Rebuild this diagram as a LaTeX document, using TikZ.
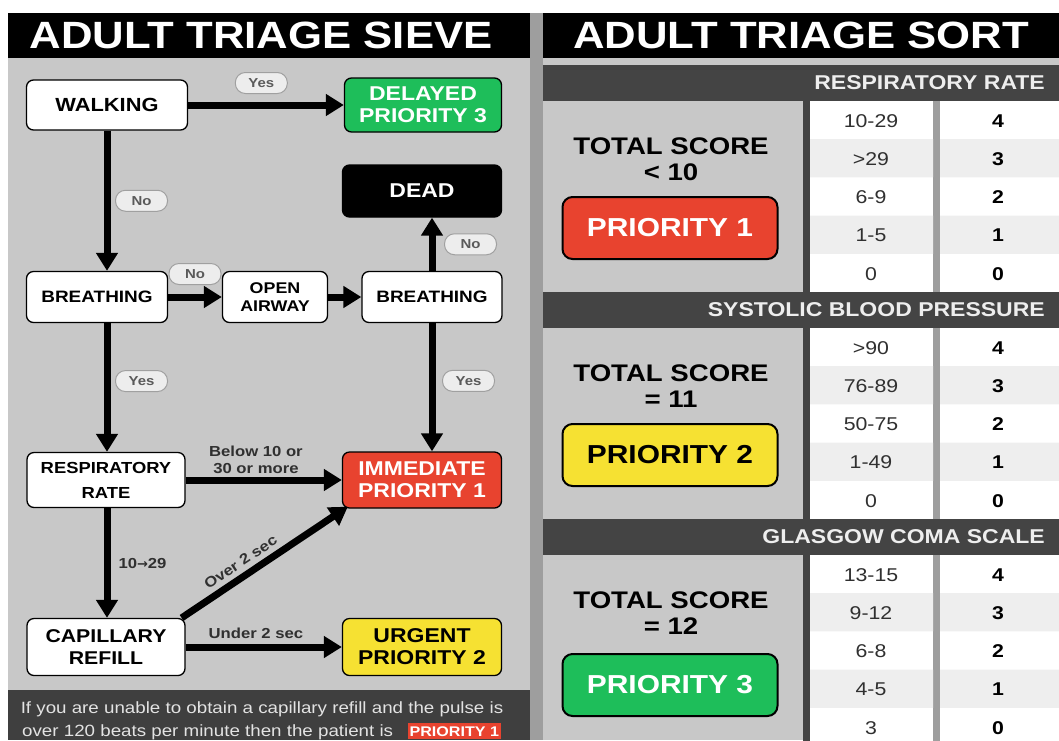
\documentclass[tikz,border=0pt]{standalone}
\usepackage{fontspec}
\setmainfont{Liberation Sans}[FakeStretch=1.15]
\newfontfamily\arrowfont{DejaVu Sans}
\usetikzlibrary{arrows.meta,positioning}

\definecolor{panelgray}{HTML}{C8C8C8}
\definecolor{footgray}{HTML}{3F3F3F}
\definecolor{headgray}{HTML}{444444}
\definecolor{divider}{HTML}{9E9E9E}
\definecolor{altrow}{HTML}{EEEEEE}
\definecolor{prired}{HTML}{E8432F}
\definecolor{prigreen}{HTML}{1EBE5A}
\definecolor{priyellow}{HTML}{F6E132}
\definecolor{pillfill}{HTML}{EDEDED}
\definecolor{pillline}{HTML}{A0A0A0}
\definecolor{pillink}{HTML}{5A5A5A}
\definecolor{labelink}{HTML}{303030}

\tikzset{
	sievebox/.style={draw=black,line width=1.3pt,rounded corners=7pt,fill=white,align=center,inner sep=0pt,font=\fontsize{16.5}{22}\selectfont\bfseries},
	pribox/.style={sievebox,font=\fontsize{20}{22}\selectfont\bfseries},
	pill/.style={draw=pillline,fill=pillfill,line width=1pt,rounded corners=10pt,minimum width=52pt,minimum height=21pt,inner sep=0pt,text=pillink,font=\fontsize{13}{13}\selectfont\bfseries},
	flow/.style={line width=7pt,-{Triangle[length=18pt,width=21pt]}},
	edgetext/.style={text=labelink,align=center,inner sep=1pt,font=\fontsize{14.5}{17}\selectfont\bfseries},
	titletext/.style={text=white,inner sep=0pt,font=\fontsize{38}{40}\selectfont\bfseries},
	headtext/.style={text=altrow,inner sep=0pt,font=\fontsize{20}{22}\selectfont\bfseries},
	scoretext/.style={align=center,inner sep=0pt,font=\fontsize{24}{26}\selectfont\bfseries},
	sortbox/.style={draw=black,line width=2pt,rounded corners=10pt,minimum width=215pt,minimum height=62pt,font=\fontsize{26}{28}\selectfont\bfseries},
	rangetext/.style={text=labelink,font=\fontsize{18.5}{20}\selectfont},
	pointtext/.style={text=black,font=\fontsize{18.5}{20}\selectfont\bfseries},
	foottext/.style={text=altrow!90!gray,inner sep=0pt,font=\fontsize{16.3}{18}\selectfont},
	footpri/.style={fill=prired,text=white,inner xsep=2pt,inner ysep=3pt,font=\fontsize{14}{16}\selectfont\bfseries}
}

\begin{document}
\begin{tikzpicture}[x=1pt,y=-1pt]
	\useasboundingbox (0,0) rectangle (1059,740);
	\fill[white] (0,0) rectangle (1059,740);
	\fill[panelgray] (8,58) rectangle (530,690);
	\fill[black] (8,13) rectangle (530,58);
	\fill[footgray] (8,690) rectangle (530,740);
	\fill[divider] (530,13) rectangle (543,740);
	\fill[panelgray] (543,58) rectangle (1059,740);
	\fill[black] (543,13) rectangle (1059,58);
	\node[titletext] (sieve-title) at (261,35) {ADULT TRIAGE SIEVE};
	\node[titletext] (sort-title) at (801,35) {ADULT TRIAGE SORT};

	\node[sievebox,minimum width=161pt,minimum height=50pt,font=\fontsize{19}{22}\selectfont\bfseries] (walk) at (107,105) {WALKING};
	\node[pribox,fill=prigreen,text=white,minimum width=157pt,minimum height=54pt] (delayed) at (423,105) {DELAYED\\PRIORITY 3};
	\node[pribox,fill=black,text=white,minimum width=159pt,minimum height=52pt] (dead) at (422,191) {DEAD};
	\node[sievebox,minimum width=141pt,minimum height=51pt] (breath1) at (97,297) {BREATHING};
	\node[sievebox,minimum width=105pt,minimum height=51pt,font=\fontsize{15.5}{18.5}\selectfont\bfseries] (airway) at (275,297) {OPEN\\AIRWAY};
	\node[sievebox,minimum width=140pt,minimum height=51pt] (breath2) at (432,297) {BREATHING};
	\node[sievebox,minimum width=158pt,minimum height=55pt,font=\fontsize{16}{25}\selectfont\bfseries] (resp) at (106,480) {RESPIRATORY\\RATE};
	\node[pribox,fill=prired,text=white,minimum width=159pt,minimum height=56pt] (immed) at (422,480) {IMMEDIATE\\PRIORITY 1};
	\node[sievebox,minimum width=158pt,minimum height=57pt,font=\fontsize{18.5}{22}\selectfont\bfseries] (cap) at (106,647) {CAPILLARY\\REFILL};
	\node[pribox,fill=priyellow,minimum width=159pt,minimum height=57pt] (urgent) at (422,647) {URGENT\\PRIORITY 2};

	\draw[flow] (walk) -- node[pill,above=11pt,pos=0.47] (walk-yes) {Yes} (delayed);
	\draw[flow] (walk.south) -- node[pill,right=8pt] (walk-no) {No} (walk.south |- breath1.north);
	\draw[flow] (breath1) -- node[pill,above=12pt] (breath1-no) {No} (airway);
	\draw[flow] (airway) -- (breath2);
	\draw[flow] (breath2.north) -- node[pill,right=12pt] (breath2-no) {No} (breath2.north |- dead.south);
	\draw[flow] (walk.south |- breath1.south) -- node[pill,right=8pt,pos=0.45] (breath1-yes) {Yes} (walk.south |- resp.north);
	\draw[flow] (breath2.south) -- node[pill,right=10pt,pos=0.45] (breath2-yes) {Yes} (breath2.south |- immed.north);
	\draw[flow] (resp) -- node[edgetext,above=2pt,pos=0.45] (resp-below) {Below 10 or\\30 or more} (immed);
	\draw[flow] (walk.south |- resp.south) -- node[edgetext,right=7pt] (resp-mid) {10{\arrowfont\fontsize{13}{13}\selectfont→}29} (walk.south |- cap.north);
	\draw[flow] ([xshift=-4pt]cap.north east) -- node[edgetext,sloped,above=4pt,pos=0.4] (cap-over) {Over 2 sec} ([xshift=6pt,yshift=2pt]immed.south west);
	\draw[flow] (cap) -- node[edgetext,above=4pt,pos=0.45] (cap-under) {Under 2 sec} (urgent);

	\node[foottext,anchor=base] (foot1) at (262,713) {If you are unable to obtain a capillary refill and the pulse is};
	\node[foottext,anchor=base west] (foot2) at (22,736) {over 120 beats per minute then the patient is};
	\node[footpri,base right=14pt of foot2] (foot-pri) {PRIORITY 1};

	\foreach \s in {0,1,2} {
		\fill[headgray] (543,{65+227*\s}) rectangle (1059,{101+227*\s});
		\fill[headgray] (803,{101+227*\s}) rectangle (810,{292+227*\s});
		\fill[white] (810,{101+227*\s}) rectangle (933,{292+227*\s});
		\fill[divider] (933,{101+227*\s}) rectangle (940,{292+227*\s});
		\fill[white] (940,{101+227*\s}) rectangle (1059,{292+227*\s});
		\foreach \r in {1,3}
			\fill[altrow] (810,{101+227*\s+38.2*\r}) rectangle (933,{139.2+227*\s+38.2*\r})
				(940,{101+227*\s+38.2*\r}) rectangle (1059,{139.2+227*\s+38.2*\r});
	}

	\node[headtext,anchor=east] (rr-head) at (1045,83) {RESPIRATORY RATE};
	\node[scoretext] (rr-score) at (671,159) {TOTAL SCORE\\< 10};
	\node[sortbox,fill=prired,text=white] (rr-pri) at (670,228) {PRIORITY 1};
	\foreach \v/\p [count=\r] in {10-29/4,>29/3,6-9/2,1-5/1,0/0} {
		\node[rangetext] (rr-range\r) at (871,{121+38.2*(\r-1)}) {\v};
		\node[pointtext] (rr-point\r) at (998,{121+38.2*(\r-1)}) {\p};
	}

	\node[headtext,anchor=east] (bp-head) at (1045,310) {SYSTOLIC BLOOD PRESSURE};
	\node[scoretext] (bp-score) at (671,386) {TOTAL SCORE\\= 11};
	\node[sortbox,fill=priyellow] (bp-pri) at (670,455) {PRIORITY 2};
	\foreach \v/\p [count=\r] in {>90/4,76-89/3,50-75/2,1-49/1,0/0} {
		\node[rangetext] (bp-range\r) at (871,{348+38.2*(\r-1)}) {\v};
		\node[pointtext] (bp-point\r) at (998,{348+38.2*(\r-1)}) {\p};
	}

	\node[headtext,anchor=east] (gc-head) at (1045,537) {GLASGOW COMA SCALE};
	\node[scoretext] (gc-score) at (671,613) {TOTAL SCORE\\= 12};
	\node[sortbox,fill=prigreen,text=white] (gc-pri) at (670,685) {PRIORITY 3};
	\foreach \v/\p [count=\r] in {13-15/4,9-12/3,6-8/2,4-5/1,3/0} {
		\node[rangetext] (gc-range\r) at (871,{575+38.2*(\r-1)}) {\v};
		\node[pointtext] (gc-point\r) at (998,{575+38.2*(\r-1)}) {\p};
	}
\end{tikzpicture}
\end{document}
